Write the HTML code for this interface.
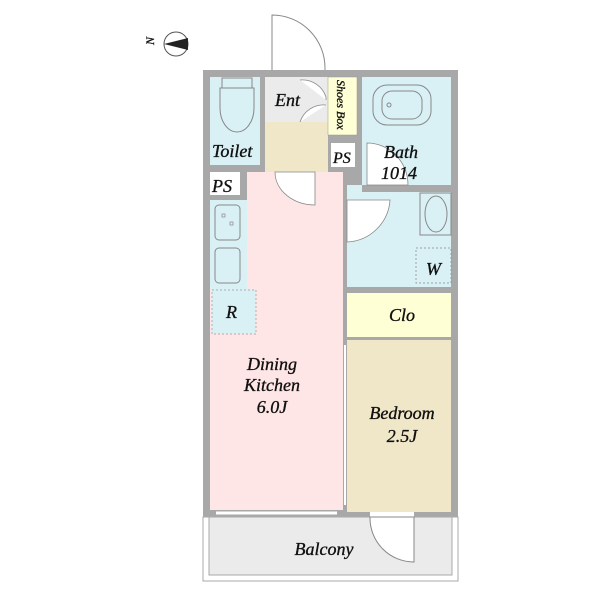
<!DOCTYPE html><html><head><style>body{margin:0;background:#fff}svg{display:block}text{font-family:"Liberation Serif",serif;font-style:italic;fill:#111;stroke:#111;stroke-width:0.35}</style></head><body>
<svg width="600" height="600" viewBox="0 0 600 600">
<!-- compass -->
<circle cx="176" cy="44" r="12" fill="#fff" stroke="#555"/>
<path d="M164 44 L188 38 L188 50 Z" fill="#222"/>
<text x="150" y="49" font-size="12" font-style="normal" transform="rotate(-90 150 45)">N</text>
<!-- entry door -->
<path d="M272 70 V15 A53 53 0 0 1 325 68 V70" fill="#fff" stroke="#888"/>
<!-- walls -->
<rect x="203" y="70" width="255" height="447" fill="#a8a8a8"/>
<!-- balcony -->
<rect x="203" y="517" width="255" height="64" fill="#fff" stroke="#aaa"/>
<rect x="209" y="517" width="243" height="58" fill="#ebebeb" stroke="#aaa"/>
<rect x="370" y="510" width="44" height="8" fill="#fff"/>
<path d="M414 517 V562 A44 44 0 0 1 370 517 Z" fill="#fff" stroke="#888"/>
<!-- rooms -->
<rect x="210" y="77" width="50" height="88" fill="#d9f0f5"/>
<rect x="265" y="77" width="63" height="45" fill="#ebebeb"/>
<rect x="265" y="122" width="63" height="50" fill="#f0e6c8"/>
<rect x="328" y="77" width="29" height="58" fill="#ffffd6" stroke="#999" stroke-width="0.5"/>
<rect x="331" y="143" width="24" height="24" fill="#fff"/>
<rect x="362" y="77" width="89" height="108" fill="#d9f0f5"/>
<rect x="210" y="172" width="133" height="338" fill="#ffe6e6"/>
<rect x="210" y="172" width="30" height="23" fill="#fff"/>
<rect x="240" y="172" width="7" height="28" fill="#a8a8a8"/>
<rect x="210" y="195" width="30" height="5" fill="#a8a8a8"/>
<rect x="210" y="200" width="37" height="90" fill="#d9f0f5"/>
<rect x="212" y="290" width="44" height="44" fill="#d9f0f5" stroke="#999" stroke-dasharray="2 2" stroke-width="0.7"/>
<rect x="347" y="192" width="104" height="95" fill="#d9f0f5"/>
<rect x="347" y="185" width="15" height="10" fill="#d9f0f5"/>
<rect x="347" y="293" width="104" height="44" fill="#ffffd6"/>
<rect x="347" y="340" width="104" height="172" fill="#f0e6c8"/>
<!-- doors -->
<path d="M315 172 V205 A40 33 0 0 1 275 172 Z" fill="#fff" stroke="#888" stroke-width="0.8"/>
<path d="M347 200 H390 A45 45 0 0 1 347 242 Z" fill="#fff" stroke="#888" stroke-width="0.8"/>
<path d="M300 80 A25 25 0 0 1 326 97 L326 100" fill="#fff" stroke="#888" stroke-width="0.8"/>
<path d="M300 122 A25 25 0 0 1 326 105" fill="#fff" stroke="#888" stroke-width="0.8"/>
<path d="M367 143 V185 H408 A41 42 0 0 0 367 143 Z" fill="#fff" stroke="#888" stroke-width="0.8"/>
<!-- fixtures -->
<rect x="373" y="85" width="58" height="40" rx="14" fill="none" stroke="#888"/>
<rect x="382" y="91" width="40" height="28" rx="10" fill="none" stroke="#888"/>
<circle cx="389" cy="105" r="2" fill="none" stroke="#888"/>
<rect x="222" y="78" width="30" height="10" fill="none" stroke="#888"/>
<path d="M220 88 h34 v20 a17 24 0 0 1 -34 0 z" fill="none" stroke="#888"/>
<rect x="215" y="205" width="25" height="35" rx="4" fill="none" stroke="#888"/>
<rect x="222" y="214" width="3" height="3" fill="none" stroke="#888" stroke-width="0.7"/>
<rect x="230" y="222" width="3" height="3" fill="none" stroke="#888" stroke-width="0.7"/>
<rect x="215" y="248" width="25" height="35" rx="4" fill="none" stroke="#888"/>
<rect x="420" y="193" width="31" height="42" fill="none" stroke="#888"/>
<ellipse cx="436" cy="214" rx="11" ry="18" fill="none" stroke="#888"/>
<rect x="416" y="248" width="35" height="35" fill="none" stroke="#888" stroke-dasharray="2 2" stroke-width="0.7"/>
<line x1="216" y1="513" x2="337" y2="513" stroke="#fff" stroke-width="3"/>
<line x1="345" y1="345" x2="345" y2="505" stroke="#fff" stroke-width="2"/>
<!-- labels -->
<g font-size="18">
<text x="275" y="106">Ent</text>
<text x="212" y="157">Toilet</text>
<text x="212" y="192">PS</text>
<text x="333" y="163" font-size="16">PS</text>
<text x="384" y="158">Bath</text>
<text x="381" y="179">1014</text>
<text x="426" y="275">W</text>
<text x="226" y="318">R</text>
<text x="389" y="321">Clo</text>
<text x="272" y="370" text-anchor="middle">Dining</text>
<text x="272" y="391" text-anchor="middle">Kitchen</text>
<text x="272" y="413" text-anchor="middle">6.0J</text>
<text x="402" y="419" text-anchor="middle">Bedroom</text>
<text x="402" y="442" text-anchor="middle">2.5J</text>
<text x="324" y="555" text-anchor="middle">Balcony</text>
</g>
<text x="337" y="80" font-size="12" transform="rotate(90 337 80)">Shoes Box</text>
</svg></body></html>
